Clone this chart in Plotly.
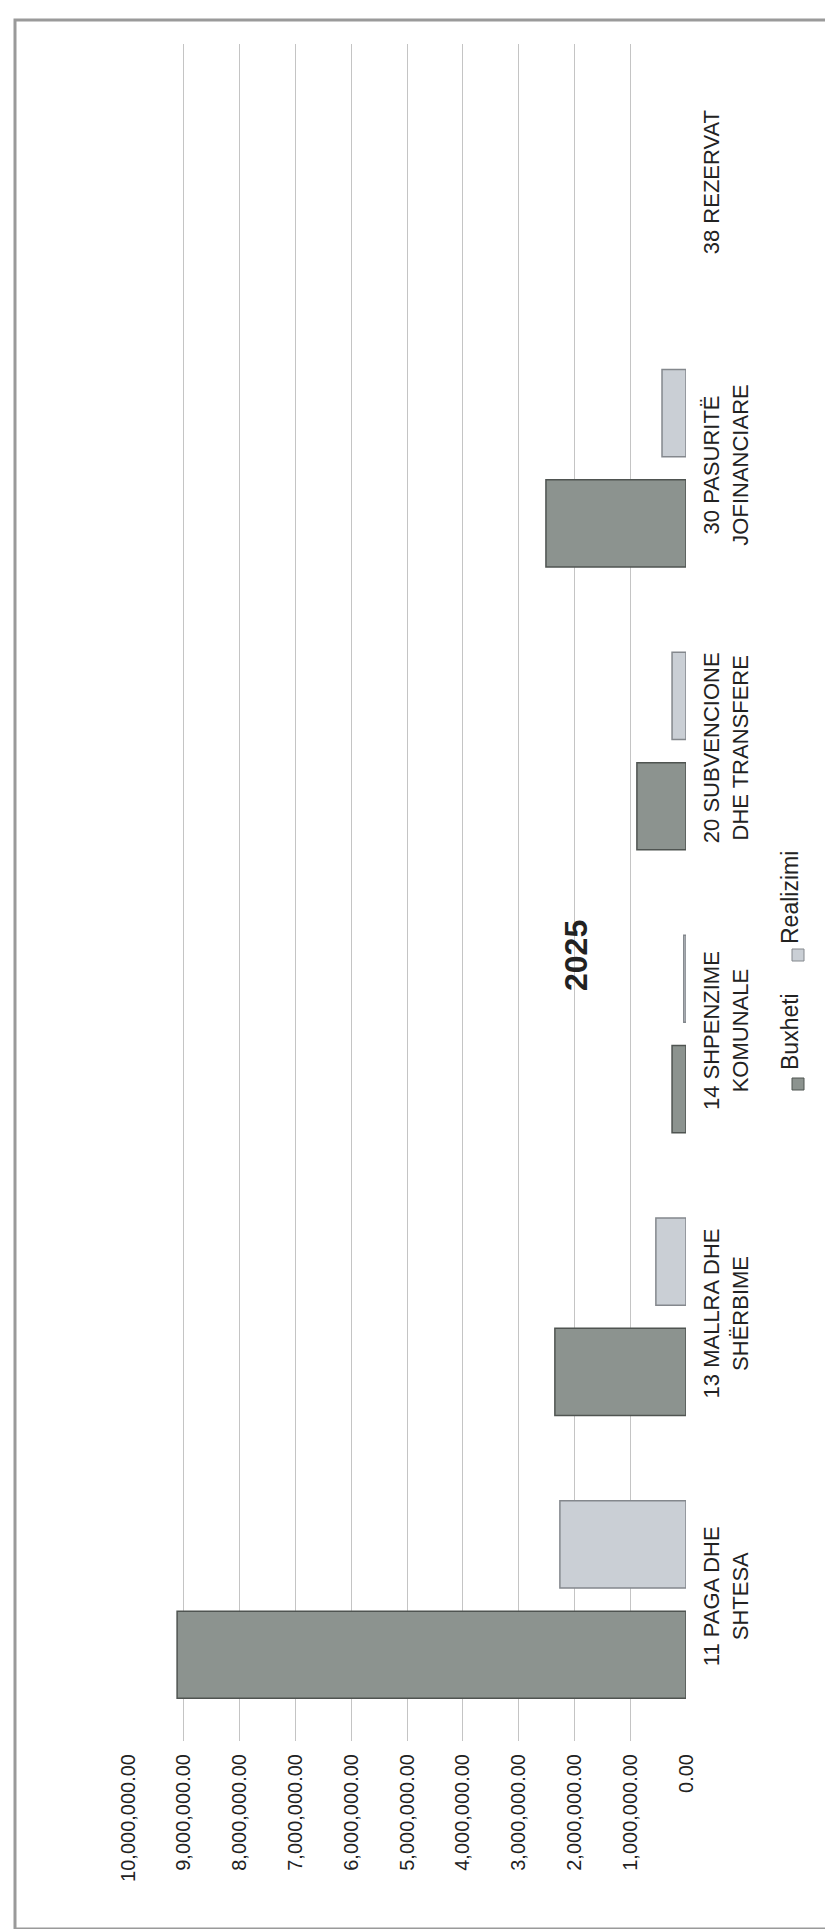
import plotly.graph_objects as go

categories = ["11 PAGA DHE<br>SHTESA", "13 MALLRA DHE<br>SHËRBIME", "14 SHPENZIME<br>KOMUNALE",
              "20 SUBVENCIONE<br>DHE TRANSFERE", "30 PASURITË<br>JOFINANCIARE", "38 REZERVAT"]
buxheti = [9120000, 2350000, 250000, 880000, 2510000, 0]
realizimi = [2260000, 540000, 40000, 250000, 430000, 0]
tick_vals = [0, 1000000, 2000000, 3000000, 4000000, 5000000, 6000000, 7000000, 8000000, 9000000, 10000000]
title_text = "2025"
series_names = ["Buxheti", "Realizimi"]

FONT = "Liberation Sans, Arial, sans-serif"
C_BUX = "#8c938f"
C_REA = "#cacfd5"
L_BUX = "#4f5451"
L_REA = "#84888d"

fig = go.Figure()
fig.add_trace(go.Bar(y=categories, x=buxheti, orientation="h", name=series_names[0],
                     marker=dict(color=C_BUX,
                                 line=dict(color=L_BUX, width=[1.5 if v > 0 else 0 for v in buxheti]))))
fig.add_trace(go.Bar(y=categories, x=realizimi, orientation="h", name=series_names[1],
                     marker=dict(color=C_REA,
                                 line=dict(color=L_REA, width=[1.5 if v > 0 else 0 for v in realizimi]))))

W, H = 833, 1929
PL, PR, PT, PB = 120, 678, 36, 1733
fig.update_layout(
    width=W, height=H, autosize=False,
    margin=dict(l=PL, r=W - PR, t=PT, b=H - PB),
    paper_bgcolor="white", plot_bgcolor="white",
    barmode="group", bargap=0.22, bargroupgap=0.21,
    showlegend=False,
    font=dict(family=FONT, size=20, color="#222222"),
    xaxis=dict(range=[10000000, 0], tickvals=tick_vals, tickformat=",.2f",
               tickangle=-90, showgrid=True, gridcolor="#c4c4c4", gridwidth=1,
               zeroline=False, showline=False, ticks="", ticklabelstandoff=8,
               tickfont=dict(size=20, family=FONT, color="#222222")),
    yaxis=dict(side="right", tickangle=-90, showgrid=False, zeroline=False,
               showline=False, ticks="", ticklabelstandoff=10,
               tickfont=dict(size=22, family=FONT, color="#222222")),
)

def px(xp):
    return (xp - PL) / (PR - PL)

def py(yp):
    return 1 - (yp - PT) / (PB - PT)

# title rotated like the chart
fig.add_annotation(text="<b>" + title_text + "</b>", xref="paper", yref="paper",
                   x=px(588), y=py(948), textangle=-90, showarrow=False,
                   font=dict(size=32, family=FONT, color="#222222"))

# legend rotated like the chart: text labels + square keys
legend_items = [(series_names[0], C_BUX, L_BUX, 1024, 1070),
                (series_names[1], C_REA, L_REA, 890, 941)]
for name, fill, edge, ty, my in legend_items:
    fig.add_annotation(text=name, xref="paper", yref="paper",
                       x=px(797), y=py(ty), textangle=-90, showarrow=False,
                       font=dict(size=23, family=FONT, color="#222222"))
    fig.add_shape(type="rect", xref="paper", yref="paper",
                  x0=px(784), x1=px(796), y0=py(my + 12), y1=py(my),
                  fillcolor=fill, line=dict(color=edge, width=1))

# chart-area frame
fig.add_shape(type="rect", xref="paper", yref="paper",
              x0=px(7), x1=px(823), y0=py(1921), y1=py(12),
              line=dict(color="#9a9a9a", width=3), layer="below")

fig.write_html("out.html")
